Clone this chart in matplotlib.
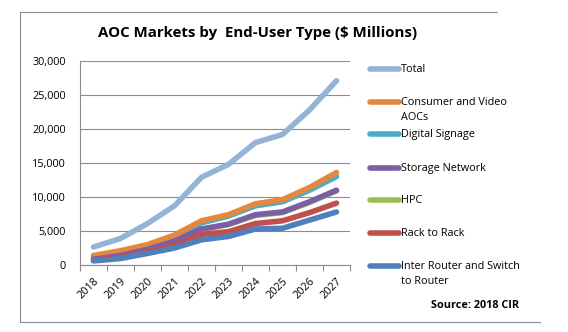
import numpy as np
import matplotlib.pyplot as plt
from matplotlib.lines import Line2D

plt.rcParams['font.family'] = ['Open Sans', 'DejaVu Sans']

years = ['2018', '2019', '2020', '2021', '2022', '2023', '2024', '2025', '2026', '2027']

total = [2650, 3900, 6100, 8700, 12900, 14800, 18000, 19200, 22800, 27100]
consumer = [1400, 2100, 3000, 4400, 6500, 7400, 9000, 9600, 11400, 13600]
signage = [1250, 1900, 2800, 4100, 6200, 7200, 8700, 9300, 11000, 13000]
storage = [850, 1400, 2300, 3500, 5300, 6000, 7400, 7800, 9300, 11000]
hpc = [800, 1350, 2250, 3400, 5200, 5950, 7300, 7700, 9200, 10900]
rack = [700, 1100, 1900, 2900, 4500, 4900, 6100, 6500, 7700, 9100]
router = [600, 950, 1700, 2500, 3700, 4200, 5300, 5400, 6600, 7800]

series = [
    ('Total', total, '#95b3d7', 3),
    ('Consumer and Video\nAOCs', consumer, '#e4873f', 3),
    ('Digital Signage', signage, '#4aacc6', 2.9),
    ('Storage Network', storage, '#7b5ea3', 3),
    ('HPC', hpc, '#9bbb59', 2.8),
    ('Rack to Rack', rack, '#c0504d', 3),
    ('Inter Router and Switch\nto Router', router, '#4f7fbd', 3),
]

W, H = 568, 332
fig = plt.figure(figsize=(W / 100, H / 100), dpi=100)
ax = fig.add_axes([80 / W, 1 - 265 / H, 270 / W, 204 / H])

x = np.arange(len(years))
for name, vals, col, z in series:
    ax.plot(x, vals, color=col, lw=4, solid_capstyle='round',
            solid_joinstyle='round', zorder=z)

ax.set_xlim(-0.5, len(years) - 0.5)
ax.set_ylim(0, 30000)
ax.set_yticks(range(0, 30001, 5000))
ax.set_yticklabels(['{:,}'.format(v) for v in range(0, 30001, 5000)], fontsize=7.8)
ax.yaxis.grid(True, color='#8c8c8c', lw=0.8)
ax.set_axisbelow(True)
ax.tick_params(axis='y', length=0, pad=10)

# category ticks sit between the years, labels at the centres
ax.set_xticks(np.arange(-0.5, len(years), 1.0))
ax.set_xticklabels([])
ax.set_xticks(x, minor=True)
ax.set_xticklabels(years, minor=True, rotation=45, ha='right', va='top',
                   rotation_mode='anchor', fontsize=7.8)
ax.tick_params(axis='x', which='major', length=4, color='#8c8c8c', direction='out')
ax.tick_params(axis='x', which='minor', length=0, pad=8)

for s in ['top', 'right']:
    ax.spines[s].set_visible(False)
ax.spines['left'].set_color('#8c8c8c')
ax.spines['bottom'].set_color('#8c8c8c')

fig.text(258 / W, 1 - 33 / H, 'AOC Markets by  End-User Type ($ Millions)',
         ha='center', va='center', fontsize=10.8, fontweight='bold')

# legend
leg_y = [69, 102, 134, 168, 200, 233, 266]
for (name, vals, col, z), yy in zip(series, leg_y):
    fy = 1 - yy / H
    fig.add_artist(Line2D([370 / W, 399 / W], [fy, fy], color=col, lw=4,
                          solid_capstyle='round'))
    fig.text(401 / W, fy + 5 / H, name, ha='left', va='top', fontsize=7.8,
             linespacing=1.5)

fig.text(475 / W, 1 - 305 / H, 'Source: 2018 CIR', ha='center', va='center',
         fontsize=7.8, fontweight='bold')

# outer chart frame
fc = '#8c8c8c'
fig.add_artist(Line2D([20 / W, 20 / W], [1 - 12 / H, 1 - 322 / H], color=fc, lw=0.8))
fig.add_artist(Line2D([20 / W, 497 / W], [1 - 12 / H, 1 - 12 / H], color=fc, lw=0.8))
fig.add_artist(Line2D([20 / W, 540 / W], [1 - 322 / H, 1 - 322 / H], color=fc, lw=0.8))

fig.savefig('out.png', dpi=100)
